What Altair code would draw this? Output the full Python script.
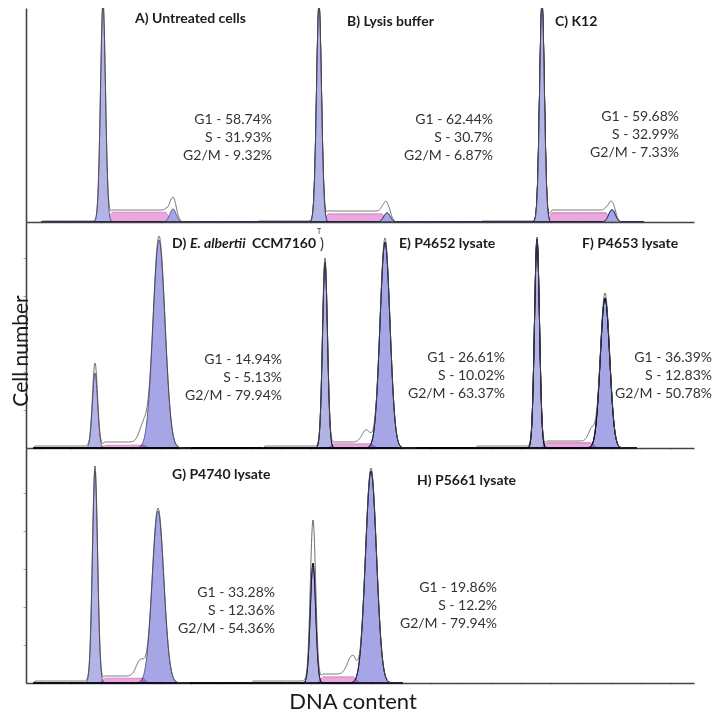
import altair as alt
import numpy as np
import pandas as pd

# ---------------- values ----------------
panel_id = ["A", "B", "C", "D", "E", "F", "G", "H"]
panel_row = [0, 0, 0, 1, 1, 1, 2, 2]
panel_title = ["A) Untreated cells", "B) Lysis buffer", "C) K12", "D)",
               "E) P4652 lysate", "F) P4653 lysate", "G) P4740 lysate", "H) P5661 lysate"]
g1_pct = ["58.74%", "62.44%", "59.68%", "14.94%", "26.61%", "36.39%", "33.28%", "19.86%"]
s_pct = ["31.93%", "30.7%", "32.99%", "5.13%", "10.02%", "12.83%", "12.36%", "12.2%"]
g2_pct = ["9.32%", "6.87%", "7.33%", "79.94%", "63.37%", "50.78%", "54.36%", "79.94%"]

# DNA-content channel of each peak (along its row) and cell counts (relative)
g1_center = [77, 293, 516, 69, 299, 511, 69, 287]
g1_fit = [220, 218, 219, 75, 186, 209, 212, 120]
g1_raw = [220, 218, 219, 85, 190, 211, 217, 163]
g1_sigma = [2.5, 2.5, 2.4, 2.6, 2.5, 2.5, 2.6, 2.7]
g2_center = [147, 361, 586, 133, 359, 579, 132, 345]
g2_fit = [13, 9, 12, 208, 206, 150, 172, 212]
g2_raw = [25, 18, 20, 212, 210, 155, 175, 215]
g2_sigma = [3.2, 3.2, 3.2, 6.0, 5.0, 4.7, 5.8, 5.5]
s_start = [83, 299, 523, 76, 305, 518, 76, 294]
s_end = [143, 359, 583, 121, 348, 568, 120, 331]
s_fit = [10, 8, 9, 3, 4, 5, 5, 6]
s_raw = [12, 11, 12, 6, 6, 7, 7, 9]
shoulder_center = [147, 361, 586, 117, 340, 566, 114, 326]
shoulder_height = [0, 0, 0, 15, 12, 12, 15, 18]
shoulder_sigma = [3, 3, 3, 4, 4, 3.5, 4, 4.5]
bg_level = [1, 1, 1, 2, 2, 2, 2, 2]

# ---------------- layout (pixels inside each row) ----------------
ROW_W = 668
ROW_H = [214, 226, 235]
FONT = "Lato"
title_pos = {"A": (109, 199), "B": (321, 196), "C": (529, 196), "D": (146, 200),
             "E": (373, 200), "F": (556, 200), "G": (146, 204), "H": (391, 198)}
stats_pos = {"A": (246, 98), "B": (467, 98), "C": (653, 101), "D": (256, 84),
             "E": (479, 86), "F": (686, 86), "G": (249, 86), "H": (471, 91)}
LINE_STEP = 18

PINK = "#eba6db"
G1_COL = "#b3b3e6"
G2_COL = "#a6a6e6"
OUTLINE = "#2a2a55"


def gauss(x, c, h, s):
    return h * np.exp(-0.5 * ((x - c) / s) ** 2)


frames = []
for i, p in enumerate(panel_id):
    x = np.arange(g1_center[i] - 62, g2_center[i] + 32, 0.25)
    ramp = [s_start[i] - 3, s_start[i] + 3, s_end[i] - 3, s_end[i] + 3]
    sf = np.interp(x, ramp, [0, s_fit[i], s_fit[i], 0])
    sr = np.interp(x, ramp, [0, s_raw[i], s_raw[i], 0])
    bg = np.interp(x, [x[0], x[0] + 2, g1_center[i] - 7, g1_center[i] - 5],
                   [0, bg_level[i], bg_level[i], 0])
    raw = (bg + sr + gauss(x, g1_center[i], g1_raw[i], g1_sigma[i])
           + gauss(x, g2_center[i], g2_raw[i], g2_sigma[i])
           + gauss(x, shoulder_center[i], shoulder_height[i], shoulder_sigma[i]))
    frames.append(pd.DataFrame({
        "row": panel_row[i], "panel": p, "x": x,
        "s_fit": sf,
        "g1_fit": gauss(x, g1_center[i], g1_fit[i], g1_sigma[i]),
        "g2_fit": gauss(x, g2_center[i], g2_fit[i], g2_sigma[i]),
        "raw": raw,
    }))
curves = pd.DataFrame(pd.concat(frames, ignore_index=True))

title_rows, stat_rows = [], []
for i, p in enumerate(panel_id):
    tx, ty = title_pos[p]
    title_rows.append({"row": panel_row[i], "tx": tx, "ty": ty, "label": panel_title[i]})
    sx, sy = stats_pos[p]
    for k, lab in enumerate(["G1 - " + g1_pct[i], "S - " + s_pct[i], "G2/M - " + g2_pct[i]]):
        stat_rows.append({"row": panel_row[i], "tx": sx, "ty": sy - k * LINE_STEP, "label": lab})
titles_df = pd.DataFrame(title_rows)
stats_df = pd.DataFrame(stat_rows)
d_parts = pd.DataFrame({"tx": [164, 226], "ty": [200, 200],
                        "label": ["E. albertii", "CCM7160"], "style": ["italic", "normal"]})


def row_chart(r):
    H = ROW_H[r]
    xs = alt.Scale(domain=[0, ROW_W], nice=False, zero=False)
    ys = alt.Scale(domain=[0, H], nice=False, zero=True)
    xa = alt.Axis(title=None, labels=False, grid=False, domainColor="#444444",
                  domainWidth=1.6, tickColor="#e0e0e0", tickSize=2,
                  values=list(range(15, ROW_W, 30)))
    ya = alt.Axis(title=None, labels=False, grid=False, domainColor="#444444",
                  domainWidth=1.6, ticks=(r > 0), tickColor="#a8a8a8", tickSize=3,
                  values=[38, 76, 114, 152, 190])
    clip = r == 0

    def X(f):
        return alt.X(f, type="quantitative", scale=xs, axis=xa)

    def Y(f):
        return alt.Y(f, type="quantitative", scale=ys, axis=ya)

    d = curves[curves["row"] == r]
    base = alt.Chart(d)
    s_area = base.mark_area(fill=PINK, stroke="#c77cba", strokeWidth=0.5, clip=clip).encode(
        x=X("x"), y=Y("s_fit"), detail="panel:N")
    g1_area = base.mark_area(fill=G1_COL, stroke=OUTLINE, strokeWidth=0.7, blend="multiply",
                             clip=clip).encode(x=X("x"), y=Y("g1_fit"), detail="panel:N")
    g2_area = base.mark_area(fill=G2_COL, stroke=OUTLINE, strokeWidth=0.7, blend="multiply",
                             clip=clip).encode(x=X("x"), y=Y("g2_fit"), detail="panel:N")
    raw_line = base.mark_line(color="#4a4a4a", strokeWidth=0.8, clip=clip).encode(
        x=X("x"), y=Y("raw"), detail="panel:N")

    tdf = titles_df[titles_df["row"] == r]
    titles = alt.Chart(tdf).mark_text(font=FONT, fontSize=14, fontWeight="bold", align="left",
                                      baseline="alphabetic", color="#1c1c1c").encode(
        x=X("tx"), y=Y("ty"), text="label:N")
    sdf = stats_df[stats_df["row"] == r]
    stats = alt.Chart(sdf).mark_text(font=FONT, fontSize=14, align="right",
                                     baseline="alphabetic", color="#333333").encode(
        x=X("tx"), y=Y("ty"), text="label:N")
    layers = [s_area, g1_area, g2_area, raw_line, titles, stats]

    if r == 1:
        ital = alt.Chart(d_parts[d_parts["style"] == "italic"]).mark_text(
            font=FONT, fontSize=14, fontWeight="bold", fontStyle="italic", align="left",
            baseline="alphabetic", color="#1c1c1c").encode(x=X("tx"), y=Y("ty"), text="label:N")
        norm = alt.Chart(d_parts[d_parts["style"] == "normal"]).mark_text(
            font=FONT, fontSize=14, fontWeight="bold", align="left",
            baseline="alphabetic", color="#1c1c1c").encode(x=X("tx"), y=Y("ty"), text="label:N")
        paren = alt.Chart(pd.DataFrame({"tx": [294], "ty": [199], "label": [")"]})).mark_text(
            font=FONT, fontSize=15, align="left", baseline="alphabetic", color="#333333").encode(
            x=X("tx"), y=Y("ty"), text="label:N")
        sup = alt.Chart(pd.DataFrame({"tx": [291], "ty": [214], "label": ["T"]})).mark_text(
            font=FONT, fontSize=7, align="left", baseline="alphabetic", color="#333333").encode(
            x=X("tx"), y=Y("ty"), text="label:N")
        ylab = alt.Chart(pd.DataFrame({"t": ["Cell number"]})).mark_text(
            font=FONT, fontSize=21, angle=270, align="center", baseline="alphabetic",
            color="#1a1a1a").encode(text="t:N", x=alt.value(2), y=alt.value(129))
        layers += [ital, norm, paren, sup, ylab]
    if r == 2:
        xlab = alt.Chart(pd.DataFrame({"t": ["DNA content"]})).mark_text(
            font=FONT, fontSize=22, align="center", baseline="alphabetic",
            color="#1a1a1a").encode(text="t:N", x=alt.value(327), y=alt.value(261))
        layers += [xlab]
    return alt.layer(*layers).properties(width=ROW_W, height=H)


chart = alt.vconcat(row_chart(0), row_chart(1), row_chart(2), spacing=0, bounds="flush",
                    padding={"left": 2, "top": 0, "right": 0, "bottom": 0})
chart = chart.configure(font=FONT, view=alt.ViewConfig(stroke=None))
chart.save("out.html", embed_options={"renderer": "svg", "actions": False})
